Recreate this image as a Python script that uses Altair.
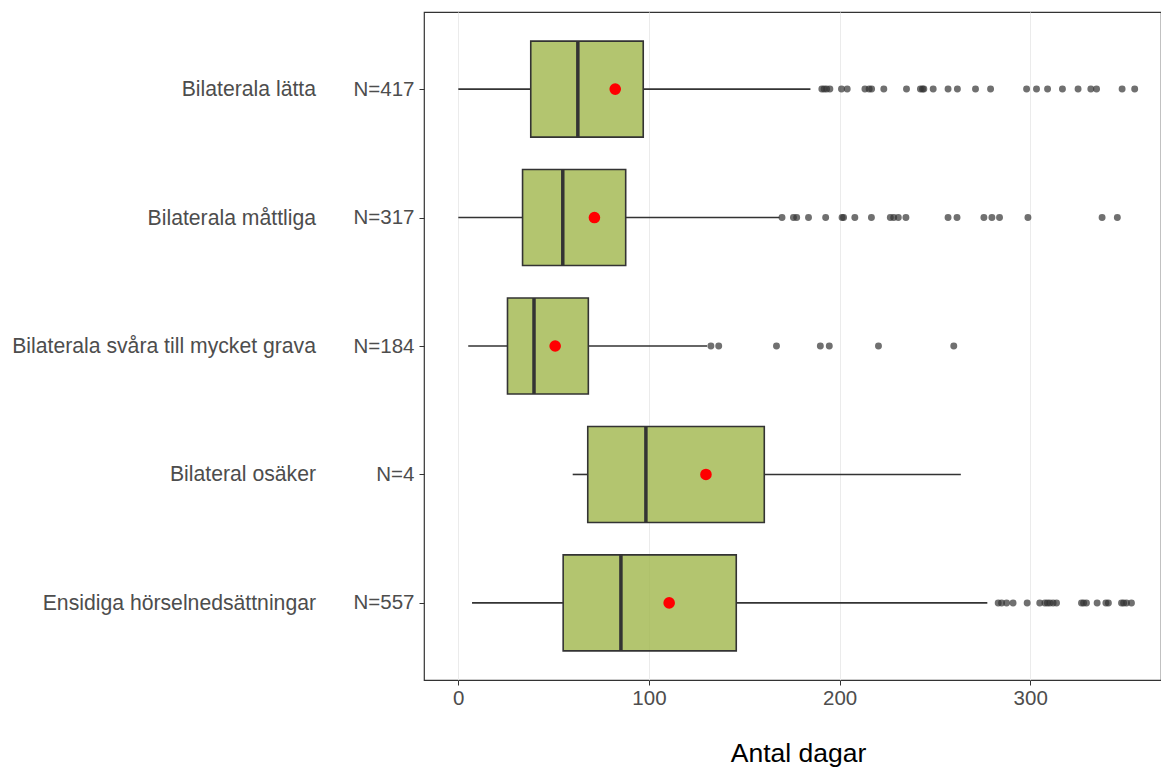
import altair as alt
import pandas as pd

# Grupper och antal barn per grupp
grupper = [
    "Bilaterala lätta",
    "Bilaterala måttliga",
    "Bilaterala svåra till mycket grava",
    "Bilateral osäker",
    "Ensidiga hörselnedsättningar",
]
antal = [417, 317, 184, 4, 557]

# Lådagramsstatistik (dagar)
nedre_morrhar = [0, 0, 5.2, 60.0, 7.2]
kvartil1 = [38.0, 33.7, 25.8, 67.9, 55.0]
medianer = [62.7, 54.8, 39.7, 98.4, 85.3]
kvartil3 = [97.0, 87.8, 68.2, 160.5, 145.8]
ovre_morrhar = [184.7, 168.5, 130.5, 263.6, 277.5]
medelvarden = [82.3, 71.4, 50.8, 129.9, 110.6]

# Extremvärden per grupp
extrem_latta = [190.7, 191.9, 193.2, 194.9, 201.0, 204.0, 213.3, 215.5, 216.8, 223.2,
                235.1, 242.4, 243.5, 244.2, 249.1, 256.9, 261.8, 271.3, 279.2,
                298.1, 303.3, 309.1, 316.9, 325.1, 331.8, 334.8, 348.2, 354.8]
extrem_mattliga = [169.8, 175.8, 177.5, 183.7, 192.7, 201.3, 202.1, 208.0, 216.7,
                   226.6, 228.4, 230.8, 234.8, 256.9, 261.6, 275.7, 279.9, 283.9,
                   298.8, 337.7, 345.7]
extrem_svara = [132.5, 136.6, 166.9, 189.9, 194.6, 220.4, 259.9]
extrem_osaker = []
extrem_ensidiga = [283.2, 285.0, 287.6, 291.0, 298.4, 305.0, 307.7, 309.0, 310.3, 312.0,
                   313.8, 326.9, 328.0, 329.5, 335.1, 339.7, 341.0, 347.9, 349.0,
                   350.5, 353.1]
extremvarden = [extrem_latta, extrem_mattliga, extrem_svara, extrem_osaker, extrem_ensidiga]

n_etiketter = [f"N={n}" for n in antal]

stat = pd.DataFrame({
    "grupp": grupper,
    "nlab": n_etiketter,
    "lo": nedre_morrhar,
    "q1": kvartil1,
    "med": medianer,
    "q3": kvartil3,
    "hi": ovre_morrhar,
    "medel": medelvarden,
})
extrem = pd.DataFrame(
    [{"nlab": lab, "dagar": v} for lab, vals in zip(n_etiketter, extremvarden) for v in vals]
)

FONT = "Liberation Sans"
GRA = "#4D4D4D"
MORK = "#333333"
TEXT = 20.5

x_scale = alt.Scale(domain=[-18, 368.6], nice=False, zero=False)
x_axis = alt.Axis(
    values=[0, 100, 200, 300], grid=True, gridColor="#EBEBEB", gridWidth=1,
    domain=False, tickColor=MORK, tickSize=5, labelFontSize=TEXT, labelColor=GRA,
    labelPadding=3, title="Antal dagar", titleFontSize=26.5, titleFontWeight="normal",
    titleColor="black", titlePadding=32, titleX=374, labelFont=FONT, titleFont=FONT,
)
y_enc = alt.Y(
    "nlab:N", sort=n_etiketter,
    scale=alt.Scale(type="point", padding=0.6),
    axis=alt.Axis(title=None, domain=False, grid=False, tickColor=MORK, tickSize=5,
                  labelFontSize=TEXT, labelColor=GRA, labelPadding=5, labelFont=FONT),
)

base = alt.Chart(stat)

morrhar_lag = base.mark_rule(color=MORK, strokeWidth=1.6).encode(
    x=alt.X("lo:Q", scale=x_scale, axis=x_axis), x2="q1:Q", y=y_enc)
morrhar_hog = base.mark_rule(color=MORK, strokeWidth=1.6).encode(
    x=alt.X("q3:Q", scale=x_scale, axis=x_axis), x2="hi:Q", y=y_enc)

lada = base.mark_bar(size=96, fill="#A0B64B", fillOpacity=0.8, stroke=MORK,
                     strokeWidth=1.6).encode(
    x=alt.X("q1:Q", scale=x_scale, axis=x_axis), x2="q3:Q", y=y_enc)

median = base.mark_tick(size=96, thickness=3.5, color=MORK, opacity=1).encode(
    x=alt.X("med:Q", scale=x_scale, axis=x_axis), y=y_enc)

punkter = alt.Chart(extrem).mark_circle(size=48, color=MORK, opacity=0.7).encode(
    x=alt.X("dagar:Q", scale=x_scale, axis=x_axis), y=y_enc)

medel = base.mark_circle(size=135, color="#FF0000", opacity=1).encode(
    x=alt.X("medel:Q", scale=x_scale, axis=x_axis), y=y_enc)

namn = base.mark_text(align="right", baseline="middle", fontSize=21.2, color=GRA,
                      font=FONT, dy=1).encode(
    x=alt.value(-108), y=y_enc, text="grupp:N")

chart = alt.layer(morrhar_lag, morrhar_hog, lada, median, punkter, medel, namn).properties(
    width=737,
    height=668,
    padding={"left": 424, "top": 12, "right": 0, "bottom": 89},
    autosize=alt.AutoSizeParams(type="none"),
).configure(font=FONT).configure_view(stroke=MORK, strokeWidth=1.2)

chart.save("out.html", embed_options={"renderer": "svg", "actions": False})
